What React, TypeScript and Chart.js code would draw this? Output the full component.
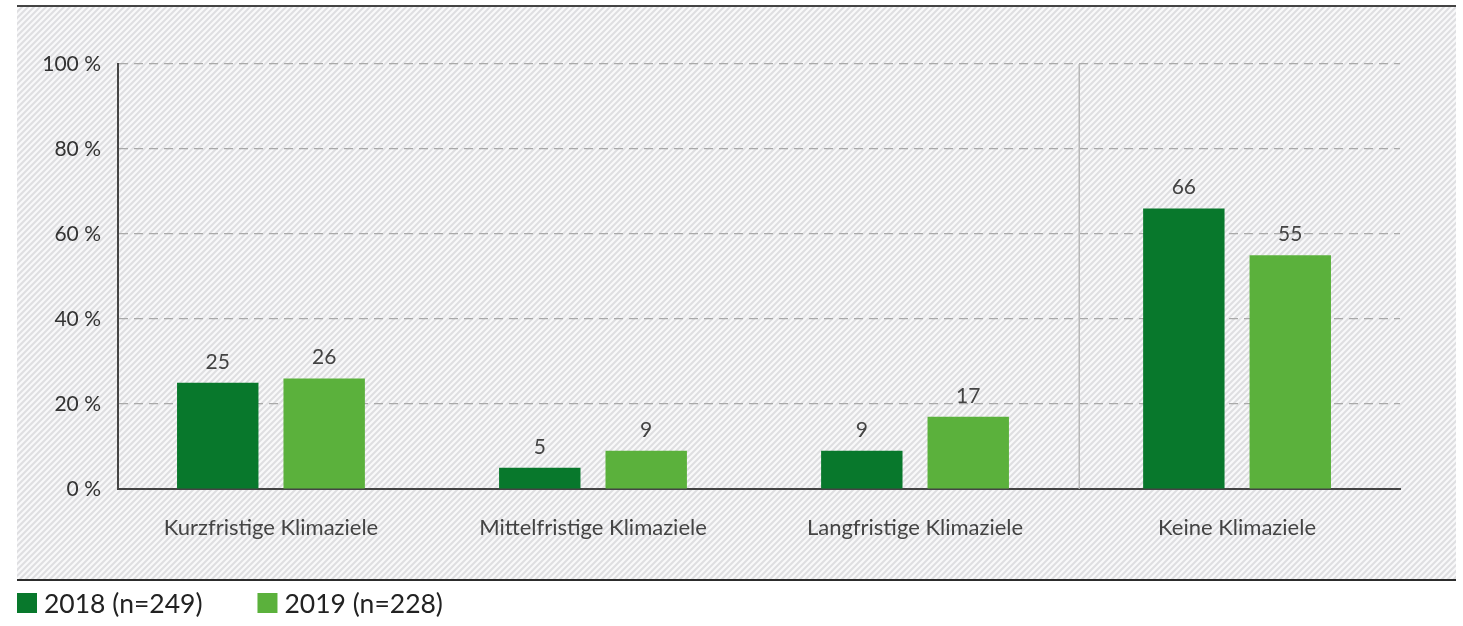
import { useEffect, useRef } from "react";
import { Chart, registerables } from "chart.js";

Chart.register(...registerables);

// Anteil der Unternehmen mit Klimazielen, in Prozent
const categories = [
  "Kurzfristige Klimaziele",
  "Mittelfristige Klimaziele",
  "Langfristige Klimaziele",
  "Keine Klimaziele",
];
const values2018 = [25, 5, 9, 66];
const values2019 = [26, 9, 17, 55];
const seriesLabels = ["2018 (n=249)", "2019 (n=228)"];
const seriesColors = ["#08782c", "#5bb13c"];
const yTickValues = [0, 20, 40, 60, 80, 100];

const FONT = "Lato, 'Open Sans', sans-serif";
const WIDTH = 1463;
const HEIGHT = 626;

// Hatched panel behind the chart, framed by a rule above and below
const panelPlugin = {
  id: "hatchedPanel",
  beforeDraw(chart: Chart) {
    const ctx = chart.ctx;
    const left = 17;
    const right = 1456;
    const top = 6;
    const bottom = 580;
    ctx.save();
    ctx.fillStyle = "#f9f9fa";
    ctx.fillRect(left, top, right - left, bottom - top);
    ctx.beginPath();
    ctx.rect(left, top, right - left, bottom - top);
    ctx.clip();
    ctx.strokeStyle = "#dedee1";
    ctx.lineWidth = 2;
    const h = bottom - top;
    for (let x = left - h; x < right + 6; x += 6) {
      ctx.beginPath();
      ctx.moveTo(x, bottom);
      ctx.lineTo(x + h, top);
      ctx.stroke();
    }
    ctx.restore();

    ctx.save();
    ctx.strokeStyle = "#444";
    ctx.lineWidth = 2;
    ctx.beginPath();
    ctx.moveTo(left, top);
    ctx.lineTo(right, top);
    ctx.stroke();
    ctx.strokeStyle = "#2c2c2c";
    ctx.beginPath();
    ctx.moveTo(left, bottom);
    ctx.lineTo(right, bottom);
    ctx.stroke();
    ctx.restore();
  },
};

// Thin rule separating "Keine Klimaziele" from the other groups
const separatorPlugin = {
  id: "groupSeparator",
  beforeDatasetsDraw(chart: Chart) {
    const { ctx, chartArea } = chart;
    const x = chart.scales.x.getPixelForValue(2.51);
    ctx.save();
    ctx.strokeStyle = "#b8b8b8";
    ctx.lineWidth = 1.5;
    ctx.beginPath();
    ctx.moveTo(x, chartArea.top);
    ctx.lineTo(x, chartArea.bottom);
    ctx.stroke();
    ctx.restore();
  },
};

// Value labels above each bar
const valueLabelPlugin = {
  id: "valueLabels",
  afterDatasetsDraw(chart: Chart) {
    const ctx = chart.ctx;
    ctx.save();
    ctx.font = `21px ${FONT}`;
    ctx.fillStyle = "#444";
    ctx.textAlign = "center";
    ctx.textBaseline = "middle";
    chart.data.datasets.forEach((ds: any, di: number) => {
      const meta = chart.getDatasetMeta(di);
      meta.data.forEach((bar: any, i: number) => {
        const v = ds.data[i].y;
        ctx.fillText(String(v), bar.x, bar.y - 21);
      });
    });
    ctx.restore();
  },
};

// Legend under the panel
const legendPlugin = {
  id: "bottomLegend",
  afterDraw(chart: Chart) {
    const ctx = chart.ctx;
    ctx.save();
    ctx.font = `26.5px ${FONT}`;
    ctx.textBaseline = "middle";
    ctx.textAlign = "left";
    let x = 17;
    const y = 603;
    chart.data.datasets.forEach((ds: any) => {
      ctx.fillStyle = ds.backgroundColor;
      ctx.fillRect(x, y - 10, 20, 20);
      ctx.fillStyle = "#222";
      ctx.fillText(ds.label, x + 27, y + 1);
      x += 27 + ctx.measureText(ds.label).width + 55;
    });
    ctx.restore();
  },
};

export default function App() {
  const canvasRef = useRef<HTMLCanvasElement | null>(null);

  useEffect(() => {
    const canvas = canvasRef.current;
    if (!canvas) return;
    const toPoints = (vals: number[]) => vals.map((y, x) => ({ x, y }));
    const chart = new Chart(canvas, {
      type: "bar",
      data: {
        datasets: [
          {
            label: seriesLabels[0],
            data: toPoints(values2018),
            backgroundColor: seriesColors[0],
            categoryPercentage: 0.661,
            barPercentage: 0.765,
          },
          {
            label: seriesLabels[1],
            data: toPoints(values2019),
            backgroundColor: seriesColors[1],
            categoryPercentage: 0.661,
            barPercentage: 0.765,
          },
        ] as any,
      },
      options: {
        responsive: false,
        devicePixelRatio: 1,
        animation: false,
        layout: { padding: { left: 0, top: 64, right: 63, bottom: 77 } },
        plugins: {
          legend: { display: false },
          tooltip: { enabled: false },
        },
        scales: {
          x: {
            type: "linear",
            offset: false,
            min: -0.475,
            max: 3.506,
            afterBuildTicks(scale: any) {
              scale.ticks = categories.map((_, i) => ({ value: i }));
            },
            afterFit(scale: any) {
              scale.height = 60;
            },
            grid: { display: false, drawTicks: false },
            border: { display: true, color: "#444", width: 2 },
            ticks: {
              padding: 26,
              color: "#444",
              font: { family: FONT, size: 22 },
              callback: (v: any) => categories[Number(v)] ?? "",
            },
          },
          y: {
            min: 0,
            max: 100,
            afterBuildTicks(scale: any) {
              scale.ticks = yTickValues.map((value) => ({ value }));
            },
            afterFit(scale: any) {
              scale.width = 118;
            },
            grid: {
              color: (c: any) => (c.tick && c.tick.value === 0 ? "rgba(0,0,0,0)" : "#a9a9a9"),
              lineWidth: 1.2,
              drawTicks: false,
            },
            border: { display: true, color: "#444", width: 2, dash: [9, 6] },
            ticks: {
              padding: 17,
              color: "#333",
              font: { family: FONT, size: 21 },
              callback: (v: any) => `${v} %`,
            },
          },
        },
      } as any,
      plugins: [panelPlugin, separatorPlugin, valueLabelPlugin, legendPlugin],
    });
    return () => chart.destroy();
  }, []);

  return (
    <div style={{ position: "absolute", left: 0, top: 0, width: WIDTH, height: HEIGHT, background: "#fff" }}>
      <canvas ref={canvasRef} width={WIDTH} height={HEIGHT} />
    </div>
  );
}
